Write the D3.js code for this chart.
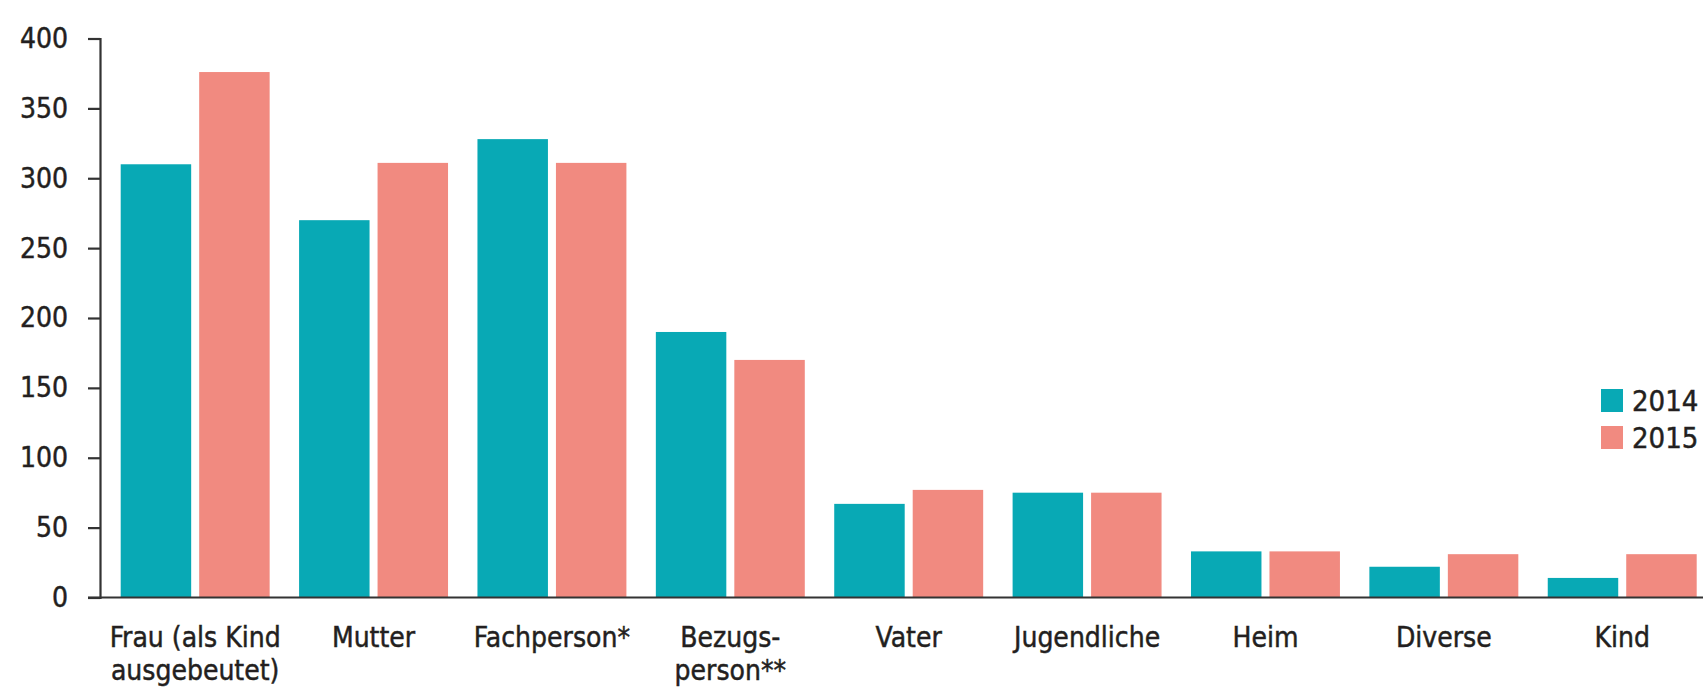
<!DOCTYPE html>
<html>
<head>
    <meta charset="UTF-8">
    <title>Bar chart 2014 / 2015</title>
    <script src="https://d3js.org/d3.v7.min.js"></script>
    <style>
        body { margin: 0; background: #fff; }
        text { font-family: "Liberation Sans Narrow", "DejaVu Sans Condensed", sans-serif; fill: #231f20;
               stroke: #231f20; stroke-width: 0.45px; }
    </style>
</head>
<body>
    <div id="chart"></div>

    <script>
        // categories and values
        var categories = ["Frau (als Kind|ausgebeutet)", "Mutter", "Fachperson*", "Bezugs-|person**",
                          "Vater", "Jugendliche", "Heim", "Diverse", "Kind"];
        var years = ["2014", "2015"];
        var values2014 = [310, 270, 328, 190, 67, 75, 33, 22, 14];
        var values2015 = [376, 311, 311, 170, 77, 75, 33, 31, 31];
        var yTicks = [0, 50, 100, 150, 200, 250, 300, 350, 400];

        var width = 1703, height = 688;
        var colors = {"2014": "#08a9b5", "2015": "#f18a80"};

        var svg = d3.select("#chart").append("svg")
            .attr("width", width)
            .attr("height", height);

        var data = categories.map(function (c, i) {
            return {cat: c, "2014": values2014[i], "2015": values2015[i]};
        });

        var y = d3.scaleLinear().domain([0, 400]).range([597.5, 38.5]);

        var x0 = d3.scaleBand()
            .domain(categories)
            .range([120.7, 1696.7])
            .paddingInner(0.165)
            .paddingOuter(0);

        var x1 = d3.scaleBand()
            .domain(years)
            .range([0, x0.bandwidth()])
            .paddingInner(0.102);

        // bars
        var group = svg.selectAll(".group")
            .data(data)
            .enter().append("g")
            .attr("class", "group")
            .attr("transform", function (d) { return "translate(" + x0(d.cat) + ",0)"; });

        group.selectAll("rect")
            .data(function (d) { return years.map(function (k) { return {key: k, value: d[k]}; }); })
            .enter().append("rect")
            .attr("x", function (d) { return x1(d.key); })
            .attr("y", function (d) { return y(d.value); })
            .attr("width", x1.bandwidth())
            .attr("height", function (d) { return y(0) - y(d.value); })
            .attr("fill", function (d) { return colors[d.key]; });

        // y axis
        var yAxis = svg.append("g")
            .attr("transform", "translate(100,0)")
            .call(d3.axisLeft(y).tickValues(yTicks).tickSize(12).tickPadding(20));
        yAxis.select(".domain").attr("stroke", "#333").attr("stroke-width", 2.2);
        yAxis.selectAll(".tick line").attr("stroke", "#333").attr("stroke-width", 2.2);
        yAxis.selectAll(".tick text")
            .attr("font-size", 28)
            .attr("font-family", null)
            .attr("fill", null);

        // x axis line
        svg.append("line")
            .attr("x1", 88).attr("x2", width)
            .attr("y1", y(0)).attr("y2", y(0))
            .attr("stroke", "#333").attr("stroke-width", 2.2);

        // category labels
        var labels = svg.selectAll(".xlabel")
            .data(categories)
            .enter().append("text")
            .attr("class", "xlabel")
            .attr("text-anchor", "middle")
            .attr("font-size", 28)
            .attr("x", function (d) { return x0(d) + x0.bandwidth() / 2; })
            .attr("y", 646.5);

        labels.selectAll("tspan")
            .data(function (d) { return d.split("|"); })
            .enter().append("tspan")
            .attr("x", function () { return d3.select(this.parentNode).attr("x"); })
            .attr("dy", function (d, i) { return i === 0 ? 0 : 33.5; })
            .text(function (d) { return d; });

        // legend
        var legend = svg.selectAll(".legend")
            .data(years)
            .enter().append("g")
            .attr("class", "legend")
            .attr("transform", function (d, i) { return "translate(1601," + (389 + i * 37) + ")"; });

        legend.append("rect")
            .attr("width", 22)
            .attr("height", 23)
            .attr("fill", function (d) { return colors[d]; });

        legend.append("text")
            .attr("x", 31)
            .attr("y", 22)
            .attr("font-size", 29)
            .text(function (d) { return d; });
    </script>
</body>
</html>
